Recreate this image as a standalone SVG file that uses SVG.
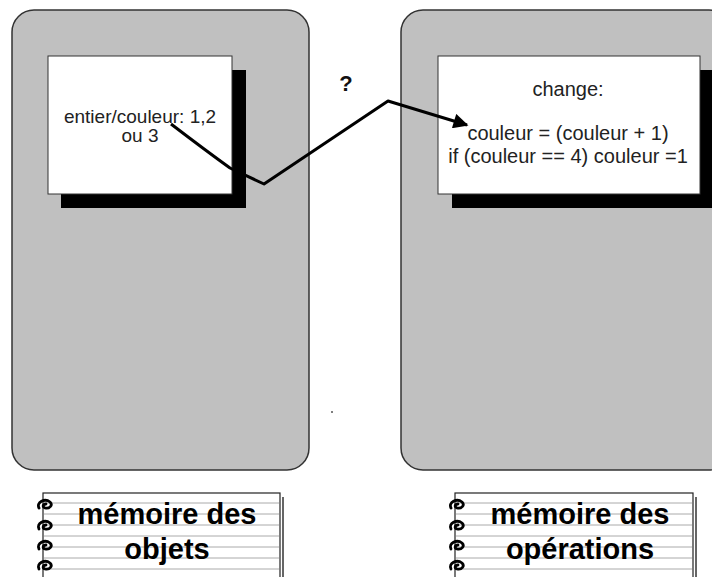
<svg xmlns="http://www.w3.org/2000/svg" width="712" height="577" viewBox="0 0 712 577">
<defs>
<style>
.panel{fill:#c0c0c0;stroke:#333;stroke-width:1.5}
.box{fill:#fff;stroke:#333;stroke-width:1}
.shadow{fill:#000}
.t{font-family:"Liberation Sans",Arial,sans-serif;font-size:19px;fill:#222;text-anchor:middle}
.t2{font-size:20px}
.nb{fill:#fff;stroke:#222;stroke-width:1.2}
.rule{stroke:#aaa;stroke-width:1}
.ring{fill:none;stroke:#000;stroke-width:2.8;stroke-linecap:round}
.lbl{font-family:"Liberation Sans",Arial,sans-serif;font-size:29px;font-weight:bold;fill:#000;text-anchor:middle}
</style>
<marker id="arr" viewBox="0 0 10 10" refX="9" refY="5" markerWidth="5.5" markerHeight="5" orient="auto" markerUnits="strokeWidth">
<path d="M0,0 L10,5 L0,10 z" fill="#000"/>
</marker>
<g id="ring">
<path class="ring" d="M-4,4 C-7,-2 2,-6 7,-2 C10,1 7,5 2,4 C-1,3 0,0 3,0"/>
</g>
</defs>
<rect width="712" height="577" fill="#fff"/>

<g id="panel-objets">
<rect class="panel" x="12" y="10" width="297" height="460" rx="22"/>
</g>
<g id="panel-operations">
<rect class="panel" x="401" y="10" width="330" height="460" rx="22"/>
</g>

<g id="box-objets">
<rect class="shadow" x="61" y="70" width="185" height="138"/>
<rect class="box" x="48" y="56" width="184" height="138"/>
<text class="t" x="140" y="123">entier/couleur: 1,2</text>
<text class="t" x="140" y="142">ou 3</text>
</g>

<g id="box-operations">
<rect class="shadow" x="452" y="70" width="270" height="138"/>
<rect class="box" x="438" y="56" width="262" height="138"/>
<text class="t t2" x="568" y="96">change:</text>
<text class="t t2" x="568" y="140">couleur = (couleur + 1)</text>
<text class="t t2" x="568" y="163">if (couleur == 4) couleur =1</text>
</g>

<g id="question">
<text x="346" y="91" style="font-family:'Liberation Sans',Arial,sans-serif;font-size:22px;font-weight:bold;fill:#111;text-anchor:middle">?</text>
</g>

<g id="connectors">
<path d="M171,124 Q205,150 230,168 L264,184 L388,101 L467,125" fill="none" stroke="#000" stroke-width="3" stroke-linejoin="round" marker-end="url(#arr)"/>
</g>

<circle cx="332" cy="412" r="1" fill="#555"/>

<g id="note-objets">
<line x1="283" y1="497" x2="283" y2="577" stroke="#333" stroke-width="1.5"/>
<rect class="nb" x="43" y="493" width="237" height="95"/>
<line class="rule" x1="44" y1="503" x2="279" y2="503"/>
<line class="rule" x1="44" y1="514" x2="279" y2="514"/>
<line class="rule" x1="44" y1="525" x2="279" y2="525"/>
<line class="rule" x1="44" y1="536" x2="279" y2="536"/>
<line class="rule" x1="44" y1="547" x2="279" y2="547"/>
<line class="rule" x1="44" y1="558" x2="279" y2="558"/>
<line class="rule" x1="44" y1="569" x2="279" y2="569"/>
<use href="#ring" x="43" y="504"/>
<use href="#ring" x="43" y="525"/>
<use href="#ring" x="43" y="545"/>
<use href="#ring" x="43" y="565"/>
<text class="lbl" x="167" y="524">mémoire des</text>
<text class="lbl" x="167" y="559">objets</text>
</g>

<g id="note-operations">
<line x1="696" y1="497" x2="696" y2="577" stroke="#333" stroke-width="1.5"/>
<rect class="nb" x="455" y="493" width="238" height="95"/>
<line class="rule" x1="456" y1="503" x2="692" y2="503"/>
<line class="rule" x1="456" y1="514" x2="692" y2="514"/>
<line class="rule" x1="456" y1="525" x2="692" y2="525"/>
<line class="rule" x1="456" y1="536" x2="692" y2="536"/>
<line class="rule" x1="456" y1="547" x2="692" y2="547"/>
<line class="rule" x1="456" y1="558" x2="692" y2="558"/>
<line class="rule" x1="456" y1="569" x2="692" y2="569"/>
<use href="#ring" x="455" y="504"/>
<use href="#ring" x="455" y="525"/>
<use href="#ring" x="455" y="545"/>
<use href="#ring" x="455" y="565"/>
<text class="lbl" x="580" y="524">mémoire des</text>
<text class="lbl" x="580" y="559">opérations</text>
</g>
</svg>
